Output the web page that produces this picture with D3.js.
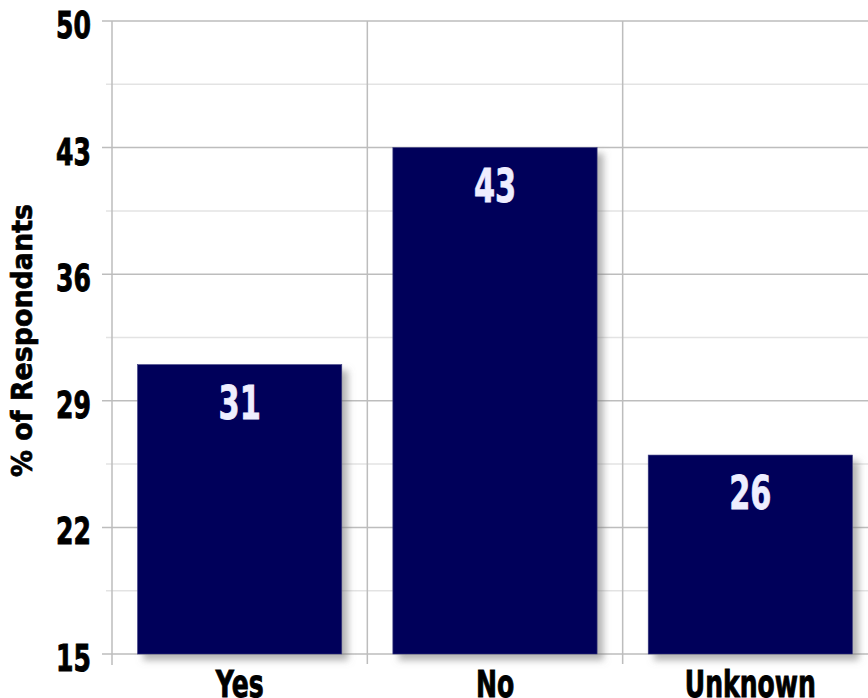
<!DOCTYPE html>
<html>
<head>
<meta charset="utf-8">
<script src="https://cdn.jsdelivr.net/npm/d3@7"></script>
<style>
  body { margin: 0; background: #fff; }
  svg text { font-family: "DejaVu Sans", sans-serif; font-weight: bold; }
</style>
</head>
<body>
<div id="chart"></div>
<script>
const categories = ['Yes', 'No', 'Unknown'];
const values = [31, 43, 26];
const yTicks = [15, 22, 29, 36, 43, 50];
const yMinorTicks = [18.5, 25.5, 32.5, 39.5, 46.5];
const yTitle = '% of Respondants';

const width = 868;
const height = 698;
const margin = { top: 21, right: -10, bottom: 44, left: 112 };
const squeeze = 0.66; // fake a condensed heavy face

const svg = d3.select('#chart')
  .append('svg')
  .attr('width', width)
  .attr('height', height);

// drop shadow for the bars
const defs = svg.append('defs');
defs.append('filter')
  .attr('id', 'shadow')
  .attr('x', '-10%').attr('y', '-10%')
  .attr('width', '130%').attr('height', '130%')
  .append('feDropShadow')
  .attr('dx', 6).attr('dy', 6)
  .attr('stdDeviation', 3.5)
  .attr('flood-color', '#777')
  .attr('flood-opacity', 0.55);

const xScale = d3.scaleBand()
  .domain(categories)
  .range([margin.left, width - margin.right])
  .paddingInner(0.2)
  .paddingOuter(0.1);

const yScale = d3.scaleLinear()
  .domain([15, 50])
  .range([height - margin.bottom, margin.top]);

const bottom = height - margin.bottom;
const step = xScale.step();
const bandEdges = categories.map((c, i) => margin.left + (i + 1) * step);

// minor horizontal grid
svg.append('g')
  .selectAll('line')
  .data(yMinorTicks)
  .enter()
  .append('line')
  .attr('x1', margin.left - 6)
  .attr('x2', width)
  .attr('y1', d => yScale(d))
  .attr('y2', d => yScale(d))
  .attr('stroke', '#e3e3e3')
  .attr('stroke-width', 1.5);

// major horizontal grid
svg.append('g')
  .selectAll('line')
  .data(yTicks)
  .enter()
  .append('line')
  .attr('x1', margin.left - 10)
  .attr('x2', width)
  .attr('y1', d => yScale(d))
  .attr('y2', d => yScale(d))
  .attr('stroke', '#bdbdbd')
  .attr('stroke-width', 1.5);

// vertical grid at band boundaries
svg.append('g')
  .selectAll('line')
  .data(bandEdges)
  .enter()
  .append('line')
  .attr('x1', d => d)
  .attr('x2', d => d)
  .attr('y1', margin.top)
  .attr('y2', bottom + 10)
  .attr('stroke', '#bdbdbd')
  .attr('stroke-width', 1.5);

// y axis line
svg.append('line')
  .attr('x1', margin.left).attr('x2', margin.left)
  .attr('y1', margin.top).attr('y2', bottom + 11)
  .attr('stroke', '#bdbdbd')
  .attr('stroke-width', 1.5);

// bars
svg.append('g')
  .selectAll('rect')
  .data(values)
  .enter()
  .append('rect')
  .attr('x', (d, i) => xScale(categories[i]))
  .attr('y', d => yScale(d))
  .attr('width', xScale.bandwidth())
  .attr('height', d => bottom - yScale(d))
  .attr('fill', '#01015a')
  .attr('stroke', '#3a3a80')
  .attr('stroke-width', 0.6)
  .attr('filter', 'url(#shadow)');

// value labels
svg.append('g')
  .selectAll('text')
  .data(values)
  .enter()
  .append('text')
  .attr('transform', (d, i) =>
    `translate(${xScale(categories[i]) + xScale.bandwidth() / 2},${yScale(d) + 54}) scale(${squeeze},1)`)
  .attr('text-anchor', 'middle')
  .attr('font-size', 46)
  .attr('fill', '#eeeeff')
  .attr('stroke', '#eeeeff')
  .attr('stroke-width', 0.8)
  .text(d => d);

// y tick labels
svg.append('g')
  .selectAll('text')
  .data(yTicks)
  .enter()
  .append('text')
  .attr('transform', d => `translate(91,${yScale(d) + 17}) scale(${squeeze},1)`)
  .attr('text-anchor', 'end')
  .attr('font-size', 38)
  .attr('fill', '#000')
  .attr('stroke', '#000')
  .attr('stroke-width', 1)
  .text(d => d);

// category labels
svg.append('g')
  .selectAll('text')
  .data(categories)
  .enter()
  .append('text')
  .attr('transform', d => `translate(${xScale(d) + xScale.bandwidth() / 2},697) scale(${squeeze},1)`)
  .attr('text-anchor', 'middle')
  .attr('font-size', 38)
  .attr('fill', '#000')
  .attr('stroke', '#000')
  .attr('stroke-width', 1)
  .text(d => d);

// y axis title
svg.append('text')
  .attr('transform', `translate(32, ${(margin.top + bottom) / 2 + 3}) rotate(-90)`)
  .attr('text-anchor', 'middle')
  .attr('font-size', 28)
  .attr('textLength', 273)
  .attr('lengthAdjust', 'spacingAndGlyphs')
  .attr('fill', '#000')
  .attr('stroke', '#000')
  .attr('stroke-width', 0.7)
  .text(yTitle);
</script>
</body>
</html>
